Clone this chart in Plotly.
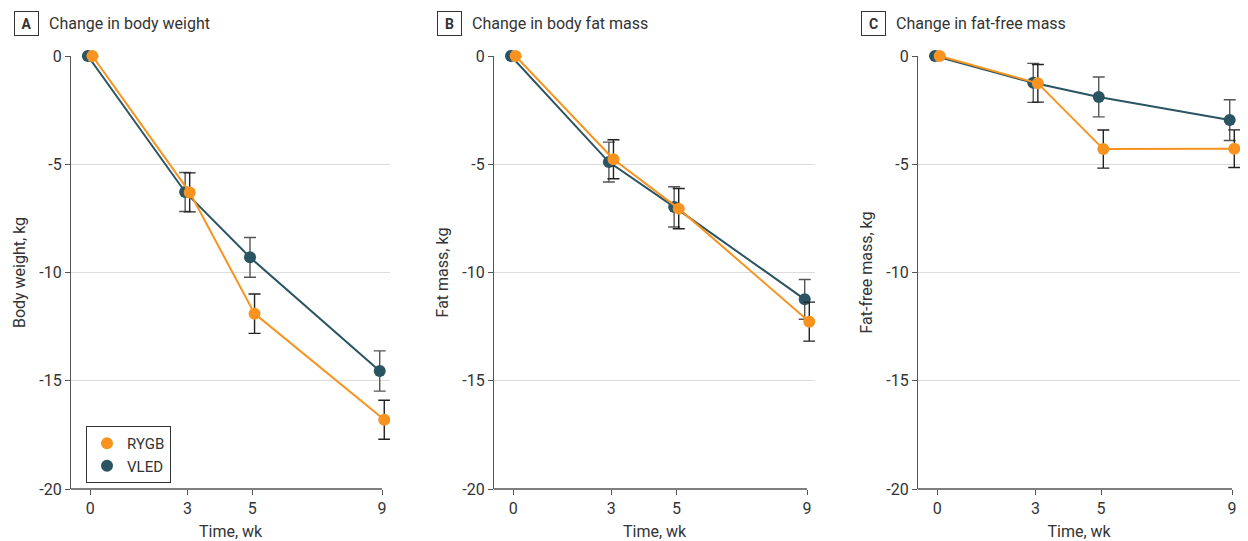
import plotly.graph_objects as go

# ---------------- data ----------------
weeks = [0, 3, 5, 9]
week_ticks = ["0", "3", "5", "9"]

rygb_weight = [0, -6.3, -11.9, -16.8]
rygb_weight_err = [None, 0.9, 0.91, 0.9]
vled_weight = [0, -6.28, -9.3, -14.55]
vled_weight_err = [None, 0.9, 0.92, 0.93]

rygb_fat = [0, -4.77, -7.05, -12.27]
rygb_fat_err = [None, 0.9, 0.93, 0.9]
vled_fat = [0, -4.9, -6.97, -11.24]
vled_fat_err = [None, 0.92, 0.93, 0.92]

rygb_ffm = [0, -1.26, -4.3, -4.28]
rygb_ffm_err = [None, 0.87, 0.88, 0.87]
vled_ffm = [0, -1.24, -1.89, -2.96]
vled_ffm_err = [None, 0.9, 0.92, 0.94]

panel_letters = ["A", "B", "C"]
panel_titles = ["Change in body weight", "Change in body fat mass", "Change in fat-free mass"]
y_titles = ["Body weight, kg", "Fat mass, kg", "Fat-free mass, kg"]
x_title = "Time, wk"
group_names = ["RYGB", "VLED"]

y_ticks = [0, -5, -10, -15, -20]

# ---------------- style ----------------
PAGE_PAD = 8                      # default <body> margin of the written page
W, H = 1248 - PAGE_PAD, 541 - PAGE_PAD
FONT = "Roboto"
ORANGE = "#F7931E"
TEAL = "#2A5461"
TXT = "#333333"
AXIS = "#555555"
GRID = "#dcdcdc"

panels = [
    (rygb_weight, rygb_weight_err, vled_weight, vled_weight_err),
    (rygb_fat, rygb_fat_err, vled_fat, vled_fat_err),
    (rygb_ffm, rygb_ffm_err, vled_ffm, vled_ffm_err),
]

# page-pixel extents of each plotting area (y axis line -> week 9)
x_px = [(71, 382), (494, 807), (918, 1232)]
y_px = (56, 489)
X_MIN, X_AXIS_END, X_MAX = -0.59, 9.0, 9.25
offset = {"RYGB": 0.07, "VLED": -0.07}


def px_x(p):
    return (p - PAGE_PAD) / W


def px_y(p):
    return 1 - (p - PAGE_PAD) / H


fig = go.Figure()
shapes = []
annotations = []
layout = dict(
    width=W, height=H,
    margin=dict(l=0, r=0, t=0, b=0),
    paper_bgcolor="white", plot_bgcolor="white",
    font=dict(family=FONT, size=14, color=TXT),
    showlegend=True,
    legend=dict(x=px_x(86), y=px_y(426), xanchor="left", yanchor="top",
                bordercolor=TXT, borderwidth=1, bgcolor="white",
                font=dict(family=FONT, size=15, color=TXT),
                itemwidth=30, tracegroupgap=0),
)

for i, (r, re, v, ve) in enumerate(panels):
    sfx = "" if i == 0 else str(i + 1)
    xa, ya = "x" + sfx, "y" + sfx
    series = [("VLED", v, ve, TEAL, "#555555"), ("RYGB", r, re, ORANGE, "#222222")]
    for name, vals, errs, col, ecol in series:
        xs = [w + offset[name] for w in weeks]
        fig.add_trace(go.Scatter(
            x=xs, y=vals, mode="lines", line=dict(color=col, width=2),
            xaxis=xa, yaxis=ya, showlegend=False, hoverinfo="skip"))
        fig.add_trace(go.Scatter(
            x=xs, y=vals, mode="markers", name=name,
            marker=dict(color=col, size=12),
            error_y=dict(type="data", array=errs, visible=True, color=ecol,
                         thickness=1.4, width=6),
            xaxis=xa, yaxis=ya, cliponaxis=False,
            showlegend=(i == 0), legendrank=1 if name == "RYGB" else 2))

    x0, x9 = x_px[i]
    px_per_wk = (x9 - x0) / (X_AXIS_END - X_MIN)
    x_end_px = x9 + (X_MAX - X_AXIS_END) * px_per_wk
    layout["xaxis" + sfx] = dict(
        domain=[px_x(x0), px_x(x_end_px)], anchor="y" + sfx,
        range=[X_MIN, X_MAX], tickvals=weeks, ticktext=week_ticks,
        showgrid=False, zeroline=False, showline=False,
        ticks="outside", ticklen=5, tickcolor=AXIS, tickwidth=1.3,
        tickfont=dict(size=16, color=TXT),
        title=dict(text=x_title, font=dict(size=16, color=TXT), standoff=9),
        automargin=False, fixedrange=True)
    layout["yaxis" + sfx] = dict(
        domain=[px_y(y_px[1]), px_y(y_px[0])], anchor="x" + sfx,
        range=[-20, 0], tickvals=y_ticks, ticktext=[str(t) for t in y_ticks],
        showgrid=True, gridcolor=GRID, gridwidth=1.3,
        zeroline=False, showline=True, linecolor=AXIS, linewidth=1.3,
        ticks="outside", ticklen=5, tickcolor=AXIS, tickwidth=1.3,
        tickfont=dict(size=16, color=TXT),
        title=dict(text=y_titles[i], font=dict(size=16, color=TXT), standoff=9),
        automargin=False, fixedrange=True)
    # x axis baseline ends at the last tick (week 9)
    shapes.append(dict(type="line", xref=xa, yref="paper",
                       x0=X_MIN, x1=X_AXIS_END, y0=px_y(y_px[1]), y1=px_y(y_px[1]),
                       line=dict(color=AXIS, width=1.3), layer="above"))

    box_cx = x0 - 45
    annotations.append(dict(
        text="<b>%s</b>" % panel_letters[i], x=px_x(box_cx), y=px_y(23),
        xref="paper", yref="paper", xanchor="center", yanchor="middle",
        showarrow=False, bordercolor=TXT, borderwidth=1, borderpad=2,
        width=19, height=19, font=dict(size=14, color=TXT)))
    annotations.append(dict(
        text=panel_titles[i], x=px_x(box_cx + 21), y=px_y(23),
        xref="paper", yref="paper", xanchor="left", yanchor="middle",
        showarrow=False, font=dict(size=16, color=TXT)))

layout["annotations"] = annotations
layout["shapes"] = shapes
fig.update_layout(**layout)
fig.write_html("out.html")
